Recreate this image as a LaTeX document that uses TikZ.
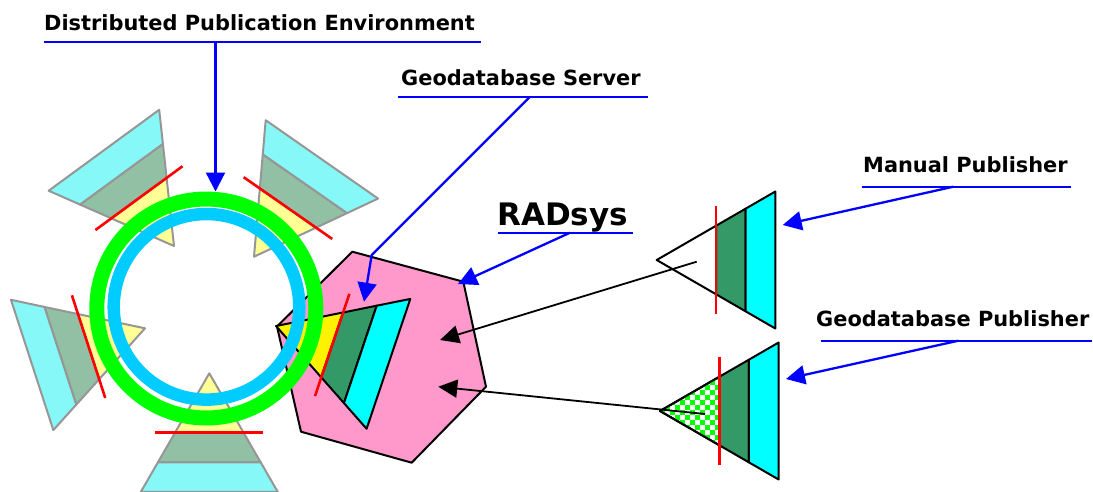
\documentclass[tikz,border=0pt]{standalone}
\usepackage{fontspec}
\setmainfont{DejaVu Sans}
\usetikzlibrary{calc,arrows.meta}

\definecolor{tcyan}{RGB}{135,248,248}
\definecolor{tgreen}{RGB}{145,192,165}
\definecolor{tyellow}{RGB}{255,255,150}
\definecolor{edgegray}{RGB}{150,150,150}
\definecolor{sgreen}{RGB}{51,153,102}
\definecolor{acyan}{RGB}{0,255,255}
\definecolor{pinkfill}{RGB}{255,153,204}
\definecolor{ringgreen}{RGB}{0,255,0}
\definecolor{ringblue}{RGB}{0,204,255}
\definecolor{checkgreen}{RGB}{0,255,0}

\tikzset{
  lbl/.style={font=\bfseries\fontsize{20.9}{25}\selectfont, inner sep=0pt, anchor=base west},
  biglbl/.style={font=\bfseries\fontsize{31}{36}\selectfont, inner sep=0pt, anchor=base west},
  uline/.style={draw=blue, line width=2.3pt},
  bluearrow/.style={draw=blue, line width=2.3pt, line join=round, -{Triangle[length=19pt,width=19pt]}},
  blackarrow/.style={draw=black, line width=1.8pt, -{Triangle[length=19pt,width=18pt]}},
  redbar/.style={draw=red, line width=2.6pt},
  softedge/.style={draw=edgegray, line width=2pt, line join=round},
  hardedge/.style={draw=black, line width=2pt, line join=round},
}

% An equilateral pyramid (side 137) given by its apex and the direction of its axis
\newcommand\mkpyr[3]{%
  \coordinate (#1-a) at #2;
  \coordinate (#1-l) at ($(#1-a)+({#3+30}:137)$);
  \coordinate (#1-r) at ($(#1-a)+({#3-30}:137)$);
  \coordinate (#1-hl) at ($(#1-a)!0.5!(#1-l)$);
  \coordinate (#1-hr) at ($(#1-a)!0.5!(#1-r)$);
  \coordinate (#1-ql) at ($(#1-a)!0.75!(#1-l)$);
  \coordinate (#1-qr) at ($(#1-a)!0.75!(#1-r)$);
  \coordinate (#1-rl) at ($(#1-hl)!-0.288!(#1-hr)$);
  \coordinate (#1-rr) at ($(#1-hr)!-0.288!(#1-hl)$);
}
% The three layers of a pyramid: tip, middle, base
\newcommand\pyrbands[5]{%
  \path[#2, fill=#3] (#1-a) -- (#1-hl) -- (#1-hr) -- cycle;
  \path[#2, fill=#4] (#1-hl) -- (#1-ql) -- (#1-qr) -- (#1-hr) -- cycle;
  \path[#2, fill=#5] (#1-ql) -- (#1-l) -- (#1-r) -- (#1-qr) -- cycle;
}

\begin{document}
\begin{tikzpicture}[x=1pt,y=-1pt]
\useasboundingbox[fill=white] (0,0) rectangle (1093,491);

% nodes of the distributed environment
\mkpyr{tl}{(174,246)}{-126.2}
\mkpyr{tr}{(254,256.7)}{-55.1}
\mkpyr{lf}{(145,328.3)}{162}
\mkpyr{bt}{(209.3,373.3)}{90}
\mkpyr{sv}{(276,326)}{18.6}
\mkpyr{mp}{(656.7,260)}{0}
\mkpyr{gp}{(660,411)}{0}

\foreach \p in {tl,tr,lf,bt}{\pyrbands{\p}{softedge}{tyellow}{tgreen}{tcyan}}

% RADsys hexagon
\path[hardedge, fill=pinkfill] (352.3,251.7) -- (463.3,281.7) -- (486,386.7)
  -- (411.7,462.7) -- (301,431.7) -- (277,326.5) -- cycle;

% geodatabase server
\pyrbands{sv}{hardedge}{yellow}{sgreen}{acyan}

% publication rings
\coordinate (ringc) at (206.3,308.5);
\draw[ringgreen, line width=15pt] (ringc) circle[radius=109.5];
\draw[ringblue, line width=12.5pt] (206.5,306.8) circle[radius=92.8];
\coordinate (ringtop) at (215.5,191.5);

% publishers
\pyrbands{mp}{hardedge}{white}{sgreen}{acyan}
\pyrbands{gp}{hardedge}{white}{sgreen}{acyan}
\begin{scope}
  \clip (gp-a) -- (gp-hl) -- (gp-hr) -- cycle;
  \foreach \x in {650,660,...,730}
    \foreach \y in {370,380,...,460}{
      \fill[checkgreen] (\x,\y) rectangle ++(5,5);
      \fill[checkgreen] (\x+5,\y+5) rectangle ++(5,5);
    }
\end{scope}
\path[hardedge] (gp-a) -- (gp-hl) -- (gp-hr) -- cycle;

% red cut lines
\foreach \p in {tl,tr,lf,bt,sv,mp,gp}{\draw[redbar] (\p-rl) -- (\p-rr);}

% labels
\node[lbl] (dpe) at (44,30) {Distributed Publication Environment};
\node[lbl] (gds) at (401,85) {Geodatabase Server};
\node[biglbl] (rad) at (497,225.7) {RADsys};
\node[lbl] (man) at (863,172.3) {Manual Publisher};
\node[lbl] (gdp) at (816,326.7) {Geodatabase Publisher};

\coordinate (dpe-src) at (215.5,42);
\coordinate (gds-src) at (530,96.7);
\coordinate (rad-src) at (570,232.7);
\coordinate (man-src) at (953.3,186.7);
\coordinate (gdp-src) at (958.3,340.7);

\draw[uline] (44,42) -- (481,42);
\draw[uline] (397.7,96.7) -- (648.3,96.7);
\draw[uline] (498.3,232.7) -- (632.7,232.7);
\draw[uline] (861.7,186.7) -- (1070.7,186.7);
\draw[uline] (820.7,340.7) -- (1091.7,340.7);

% connectors
\coordinate (svbend) at (371.7,255);
\coordinate (svtip) at (364,301.7);
\coordinate (hextip) at (458,284);
\coordinate (mptip) at (782.7,225);
\coordinate (gptip) at (786,379);
\coordinate (mpsrc) at (696.7,261.7);
\coordinate (gpsrc) at (705,414);
\coordinate (radin1) at (440,340);
\coordinate (radin2) at (438.3,386.7);

\draw[blackarrow] (mpsrc) -- (radin1);
\draw[blackarrow] (gpsrc) -- (radin2);
\draw[bluearrow] (dpe-src) -- (ringtop);
\draw[bluearrow] (gds-src) -- (svbend) -- (svtip);
\draw[bluearrow] (rad-src) -- (hextip);
\draw[bluearrow] (man-src) -- (mptip);
\draw[bluearrow] (gdp-src) -- (gptip);
\end{tikzpicture}
\end{document}
